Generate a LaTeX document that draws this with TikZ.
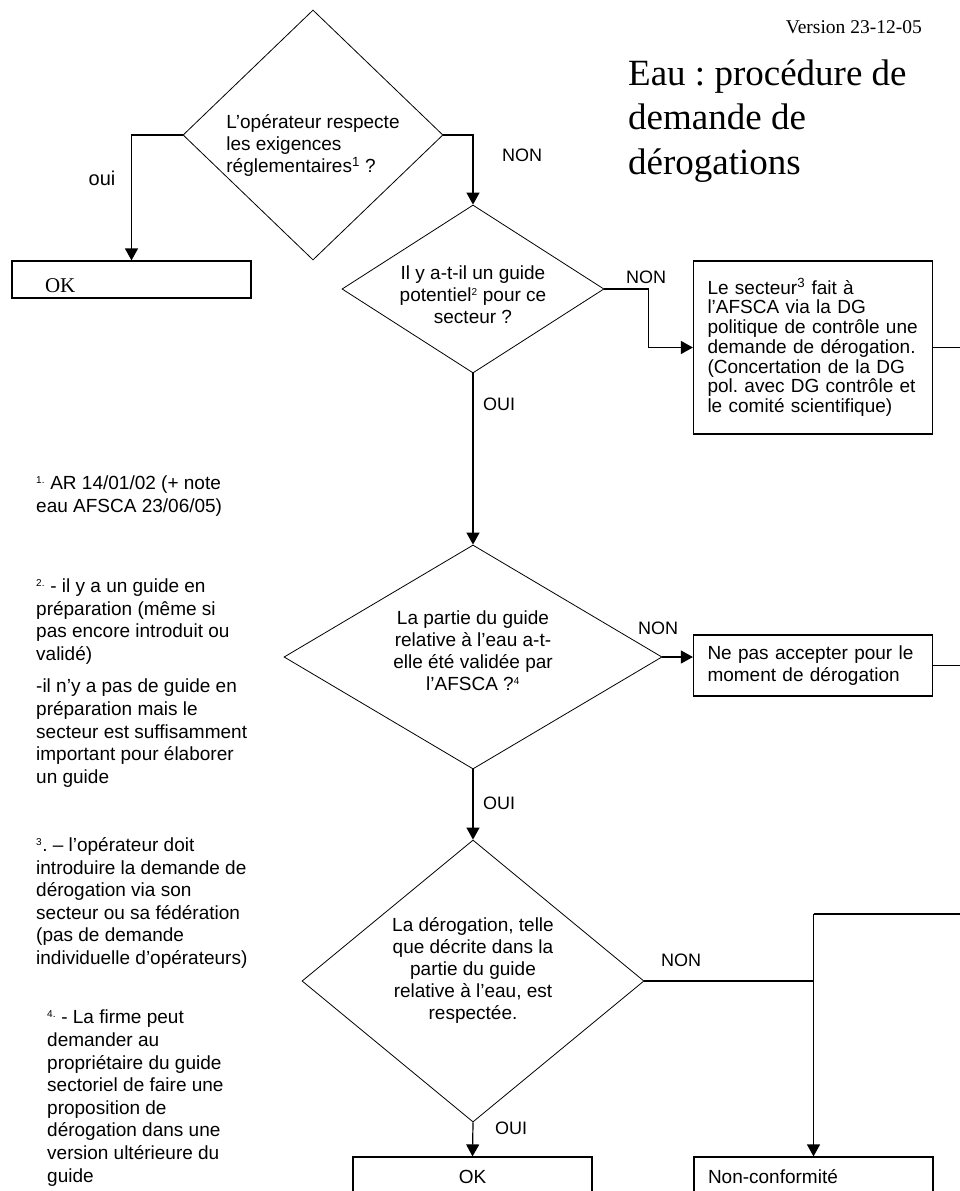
\documentclass[tikz,border=0pt]{standalone}
\usepackage{fontspec}
\setmainfont{Liberation Serif}
\setsansfont{Liberation Sans}
\usetikzlibrary{arrows.meta,positioning,shapes.geometric}
\frenchspacing

% invisible struts to move a text block down or up inside its shape
\newcommand{\sink}[1]{\rule{0pt}{#1}}
\newcommand{\lift}[1]{\rule[-#1]{0pt}{#1}}
\newcommand{\smallmark}[1]{\textsuperscript{\fontsize{10}{10}\selectfont #1}}

\begin{document}
\begin{tikzpicture}[
  x=1pt, y=-1pt,
  decision/.style={draw, line width=0.8pt, diamond, inner sep=-4pt, align=center,
    font=\sffamily\fontsize{19}{22}\selectfont},
  box/.style={draw, line width=1.2pt, text width=211pt, inner xsep=14pt, inner ysep=0pt,
    align=left, font=\sffamily\fontsize{19}{22}\selectfont},
  note/.style={anchor=west, inner sep=0pt, align=left,
    font=\sffamily\fontsize{19}{22.6}\selectfont},
  lbl/.style={inner sep=0pt, font=\sffamily\fontsize{18}{22}\selectfont},
  arr/.style={-{Triangle[length=12pt,width=13pt]}, line width=1.2pt},
  link/.style={line width=1.2pt}
]
\clip (0,0) rectangle (960,1191);

% Heading
\node[anchor=east, inner sep=0pt, font=\rmfamily\fontsize{19.5}{22}\selectfont]
  (version) at (922,27) {Version 23-12-05};
\node[anchor=west, inner sep=0pt, align=left, font=\rmfamily\fontsize{37}{44.5}\selectfont]
  (title) at (628,121) {Eau : procédure de\\demande de\\dérogations};

% Questions
\node[decision, align=left, aspect=1.04, minimum width=260pt, minimum height=250pt]
  (q1) at (313,135) {\sink{35pt}L'opérateur respecte\\les exigences\\réglementaires\textsuperscript{1} ?};
\node[decision, aspect=1.56, minimum width=262pt, minimum height=168pt]
  (q2) at (473,289) {\sink{25pt}Il y a-t-il un guide\\potentiel\smallmark{2} pour ce\\secteur ?};
\node[decision, aspect=1.69, minimum width=378pt, minimum height=224pt]
  (q3) at (473,657) {La partie du guide\\relative à l'eau a-t-\\elle été validée par\\l'AFSCA ?\smallmark{4}\lift{13pt}};
\node[decision, aspect=1.21, minimum width=342pt, minimum height=282pt]
  (q4) at (473,981) {La dérogation, telle\\que décrite dans la\\partie du guide\\relative à l'eau, est\\respectée.\lift{25pt}};

% Outcomes
\node[box, text width=173pt, inner xsep=33pt, minimum height=37pt,
  font=\rmfamily\fontsize{21}{22}\selectfont] (ok1) at (131.5,279.5) {\sink{26pt}OK};
\node[box, minimum height=173pt, font=\sffamily\fontsize{19}{19.7}\selectfont]
  (sect) at (813,347.5) {Le secteur\textsuperscript{3} fait à\\l'AFSCA via la DG\\politique de contrôle une\\demande de dérogation.\\(Concertation de la DG\\pol. avec DG contrôle et\\le comité scientifique)};
\node[box, minimum height=61pt] (nepas) at (813,665.5) {Ne pas accepter pour le\\moment de dérogation};
\node[box, align=center, minimum height=40pt] (ok2) at (472.5,1177) {OK};
\node[box, minimum height=40pt] (nc) at (813.5,1177) {Non-conformité};

% Footnotes
\node[note] (fn1) at (36,496) {\smallmark{1.} AR 14/01/02 (+ note\\eau AFSCA 23/06/05)};
\node[note] (fn2) at (36,683) {\smallmark{2.} - il y a un guide en\\préparation (même si\\pas encore introduit ou\\validé)\\[10pt]-il n'y a pas de guide en\\préparation mais le\\secteur est suffisamment\\important pour élaborer\\un guide};
\node[note] (fn3) at (36,903) {\smallmark{3}. -- l'opérateur doit\\introduire la demande de\\dérogation via son\\secteur ou sa fédération\\(pas de demande\\individuelle d'opérateurs)};
\node[note] (fn4) at (47,1098) {\smallmark{4.} - La firme peut\\demander au\\propriétaire du guide\\sectoriel de faire une\\proposition de\\dérogation dans une\\version ultérieure du\\guide};

% Branch labels
\node[lbl, font=\sffamily\fontsize{20}{22}\selectfont] (oui1) at (102,178) {oui};
\node[lbl] (non1) at (522,155) {NON};
\node[lbl] (non2) at (646,277) {NON};
\node[lbl] (oui2) at (499,404) {OUI};
\node[lbl] (non3) at (658,628) {NON};
\node[lbl] (oui3) at (499,803) {OUI};
\node[lbl] (non4) at (681,960) {NON};
\node[lbl] (oui4) at (511,1128) {OUI};

\coordinate (rim) at (970,0);
\coordinate (split) at (813.5,914);

\draw[arr] (q1.west) -| (ok1.north);
\draw[arr] (q1.east) -| (q2.north);
\draw[arr] (q2.east) -- ++(44,0) |- (sect.west);
\draw[link] (sect.east) -- (sect.east -| rim);
\draw[arr] (q2.south) -- (q3.north);
\draw[arr] (q3.east) -- (q3.east -| nepas.west);
\draw[link] (nepas.east) -- (nepas.east -| rim);
\draw[arr] (q3.south) -- (q4.north);
\draw[arr] (q4.south) -- (ok2.north);
\draw[link] (q4.east) -- (q4.east -| split);
\draw[arr] (split) -- (nc.north);
\draw[line width=2.7pt] (split) -- (split -| rim);

\end{tikzpicture}
\end{document}
